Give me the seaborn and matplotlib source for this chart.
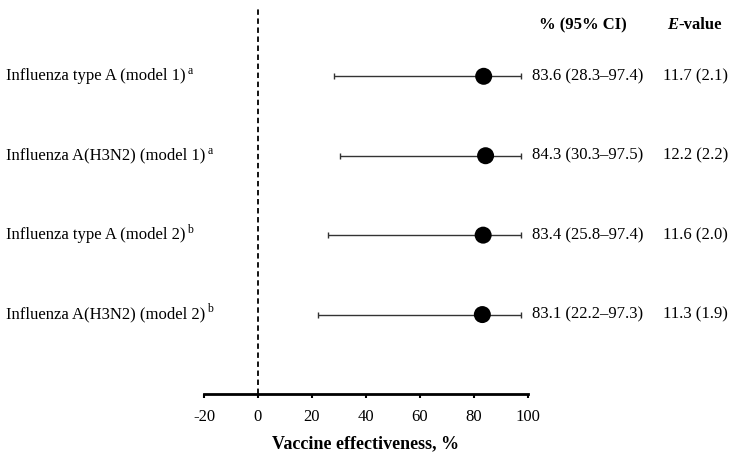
import matplotlib
matplotlib.use("Agg")
import matplotlib.pyplot as plt
import matplotlib.transforms as mtransforms
import numpy as np
import seaborn as sns

# --- dados ---
labels = [
    "Influenza type A (model 1)",
    "Influenza A(H3N2) (model 1)",
    "Influenza type A (model 2)",
    "Influenza A(H3N2) (model 2)",
]
notes = ["a", "a", "b", "b"]
ve = [83.6, 84.3, 83.4, 83.1]
ci_low = [28.3, 30.3, 25.8, 22.2]
ci_high = [97.4, 97.5, 97.4, 97.3]
e_value = [11.7, 12.2, 11.6, 11.3]
e_value_ci = [2.1, 2.2, 2.0, 1.9]
xticks = [-20, 0, 20, 40, 60, 80, 100]

# --- estilo ---
sns.set_theme(style="white")
plt.rcParams['font.family'] = ['Liberation Serif', 'DejaVu Serif']
plt.rcParams['text.color'] = 'black'
plt.rcParams['axes.labelcolor'] = 'black'
plt.rcParams['xtick.color'] = 'black'
FS = 12

rows = np.arange(1, len(labels) + 1)
ve_arr = np.array(ve)
xerr = [ve_arr - np.array(ci_low), np.array(ci_high) - ve_arr]

fig = plt.figure(figsize=(7.38, 4.62), dpi=100)
ax = fig.add_axes([0.2764, 0.1472, 0.439, 0.8355])

ax.axvline(0, color='black', lw=1.3, ls=(0, (3, 2)), zorder=1)
ax.errorbar(ve, rows, xerr=xerr, fmt='none', ecolor='#333333',
            elinewidth=1, capsize=2, capthick=1, zorder=2)
sns.scatterplot(x=ve, y=rows, s=150, color='black', edgecolor='none',
                zorder=3, ax=ax, legend=False)

ax.set_xlim(-20, 100)
ax.set_ylim(5.0, 0.14)
ax.set_xticks(xticks)
ax.set_xticklabels([str(t) for t in xticks], fontsize=FS)
ax.set_yticks([])
ax.tick_params(axis='x', direction='out', length=3, width=1.5, pad=8,
               color='black', labelcolor='black', bottom=True)
for s in ['top', 'right', 'left']:
    ax.spines[s].set_visible(False)
ax.spines['bottom'].set_linewidth(2)
ax.spines['bottom'].set_color('black')
ax.set_xlabel('Vaccine effectiveness, %', fontsize=13, fontweight='bold',
              labelpad=7)

# textos à esquerda e colunas à direita
trans = mtransforms.blended_transform_factory(fig.transFigure, ax.transData)
for y, lab, n, v, lo, hi, e, ec in zip(rows, labels, notes, ve, ci_low,
                                        ci_high, e_value, e_value_ci):
    t = ax.text(0.008, y, lab, transform=trans,
                ha='left', va='center', fontsize=FS)
    # nota sobrescrita logo depois do rótulo
    ax.annotate(n, xy=(1, 0.45), xycoords=t, xytext=(1.5, 0),
                textcoords='offset points', ha='left', va='bottom',
                fontsize=8.5)
    ax.text(0.721, y, f"{v:.1f} ({lo:.1f}–{hi:.1f})", transform=trans,
            ha='left', va='center', fontsize=FS)
    ax.text(0.898, y, f"{e:.1f} ({ec:.1f})", transform=trans,
            ha='left', va='center', fontsize=FS)

ax.text(0.790, 0.36, "% (95% CI)", transform=trans, ha='center',
        va='center', fontsize=FS, fontweight='bold')
e_txt = ax.text(0.904, 0.36, "E", transform=trans, ha='left', va='center',
                fontsize=FS, fontweight='bold', fontstyle='italic')
ax.annotate("-value", xy=(1, 0), xycoords=e_txt, ha='left', va='bottom',
            fontsize=FS, fontweight='bold')

fig.savefig('out.png', dpi=100)
